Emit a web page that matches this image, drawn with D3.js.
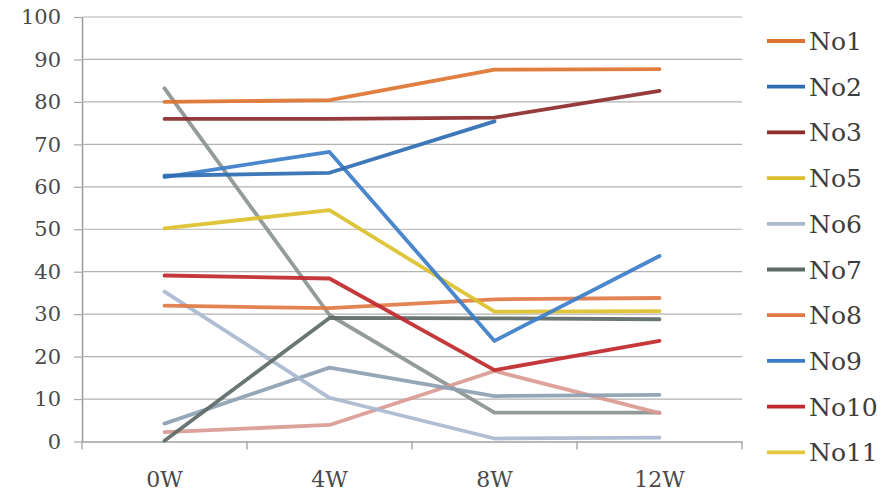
<!DOCTYPE html>
<html>
<head>
<meta charset="utf-8">
<script src="https://cdn.jsdelivr.net/npm/d3@7/dist/d3.min.js"></script>
<style>
  html, body { margin: 0; padding: 0; background: #fff; }
  svg { display: block; }
  text { font-family: "DejaVu Serif", "Liberation Serif", serif; }
</style>
</head>
<body>
<svg id="chart" width="881" height="499"></svg>
<script>
// ---- data ----
const categories = ["0W", "4W", "8W", "12W"];
const yTicks = [0, 10, 20, 30, 40, 50, 60, 70, 80, 90, 100];

const seriesNames  = ["No1", "No2", "No3", "No5", "No6", "No7", "No8", "No9", "No10", "No11", "No12", "No13", "No14"];
const seriesColors = ["#de7431", "#2f6db3", "#8e2b2b", "#dcc02a", "#a9b9cf", "#5d6a67", "#df7a45", "#3b7dc9", "#c0282c", "#e6c83e", "#8b9393", "#8d9fb1", "#d99a92"];
const legendShown  = ["No1", "No2", "No3", "No5", "No6", "No7", "No8", "No9", "No10", "No11"];

const no1  = [80.0, 80.4, 87.6, 87.7];
const no2  = [62.6, 63.3, 75.4, null];
const no3  = [76.0, 76.0, 76.3, 82.6];
const no5  = [50.2, 54.5, 30.6, 30.7];
const no6  = [35.3, 10.3, 0.7, 0.9];
const no7  = [0.2, 29.1, 29.0, 28.8];
const no8  = [32.0, 31.4, 33.5, 33.8];
const no9  = [62.3, 68.2, 23.7, 43.7];
const no10 = [39.1, 38.4, 16.8, 23.7];
const no11 = [null, null, null, null];
const no12 = [83.2, 29.8, 6.8, 6.8];
const no13 = [4.2, 17.4, 10.7, 11.0];
const no14 = [2.2, 3.9, 16.6, 6.7];

const seriesValues = [no1, no2, no3, no5, no6, no7, no8, no9, no10, no11, no12, no13, no14];

// ---- layout ----
const svg = d3.select("#chart");
const plotLeft = 82, plotRight = 742, plotTop = 17, plotBottom = 441.5;

const x = d3.scaleBand().domain(categories).range([plotLeft, plotRight]);
const y = d3.scaleLinear().domain([0, 100]).range([plotBottom, plotTop]);

// gridlines + y tick labels
const yAxis = svg.append("g").attr("transform", `translate(${plotLeft},0)`)
  .call(d3.axisLeft(y).tickValues(yTicks).tickSize(8).tickSizeOuter(0).tickPadding(13));
yAxis.select(".domain").attr("stroke", "#9a9a9a").attr("stroke-width", 1.5);
yAxis.selectAll(".tick line").attr("stroke", "#a8a8a8").attr("stroke-width", 1.2);
yAxis.selectAll(".tick text").attr("fill", "#4a4a4a").style("font-size", "21px")
  .style("font-family", "'DejaVu Serif', serif");

svg.append("g").selectAll("line").data(yTicks.filter(d => d > 0)).join("line")
  .attr("x1", plotLeft).attr("x2", plotRight)
  .attr("y1", d => y(d)).attr("y2", d => y(d))
  .attr("stroke", "#b2b2b2").attr("stroke-width", 1.2);

// x axis
const xAxis = svg.append("g").attr("transform", `translate(0,${plotBottom})`)
  .call(d3.axisBottom(x).tickSize(0).tickPadding(30));
xAxis.select(".domain").attr("stroke", "#a0a0a0").attr("stroke-width", 1.4);
xAxis.selectAll(".tick text").attr("fill", "#4a4a4a").style("font-size", "22px")
  .style("font-family", "'DejaVu Serif', serif");
// boundary ticks between categories
const bounds = categories.map(c => x(c)).concat([plotRight]);
svg.append("g").selectAll("line").data(bounds).join("line")
  .attr("x1", d => d).attr("x2", d => d)
  .attr("y1", plotBottom).attr("y2", plotBottom + 8)
  .attr("stroke", "#a0a0a0").attr("stroke-width", 1.3);

// lines
const line = d3.line()
  .defined(d => d.v !== null)
  .x(d => x(d.c) + x.bandwidth() / 2)
  .y(d => y(d.v));

const drawOrder = [10, 12, 11, 4, 5, 6, 3, 9, 8, 7, 1, 2, 0];
svg.append("g").selectAll("path").data(drawOrder).join("path")
  .attr("d", i => line(seriesValues[i].map((v, k) => ({ c: categories[k], v }))))
  .attr("fill", "none")
  .attr("stroke", i => seriesColors[i])
  .attr("stroke-width", 3.8)
  .attr("stroke-linejoin", "round")
  .attr("stroke-linecap", "round")
  .attr("opacity", 0.92);

// legend
const lg = svg.append("g");
const legendY0 = 41, legendStep = 45.7;
legendShown.forEach((name, i) => {
  const idx = seriesNames.indexOf(name);
  const yy = legendY0 + i * legendStep;
  lg.append("line").attr("x1", 767).attr("x2", 805).attr("y1", yy).attr("y2", yy)
    .attr("stroke", seriesColors[idx]).attr("stroke-width", 3.8);
  lg.append("text").attr("x", 809).attr("y", yy + 9)
    .attr("fill", "#3e3e3e").style("font-size", "25px").text(name);
});
</script>
</body>
</html>
